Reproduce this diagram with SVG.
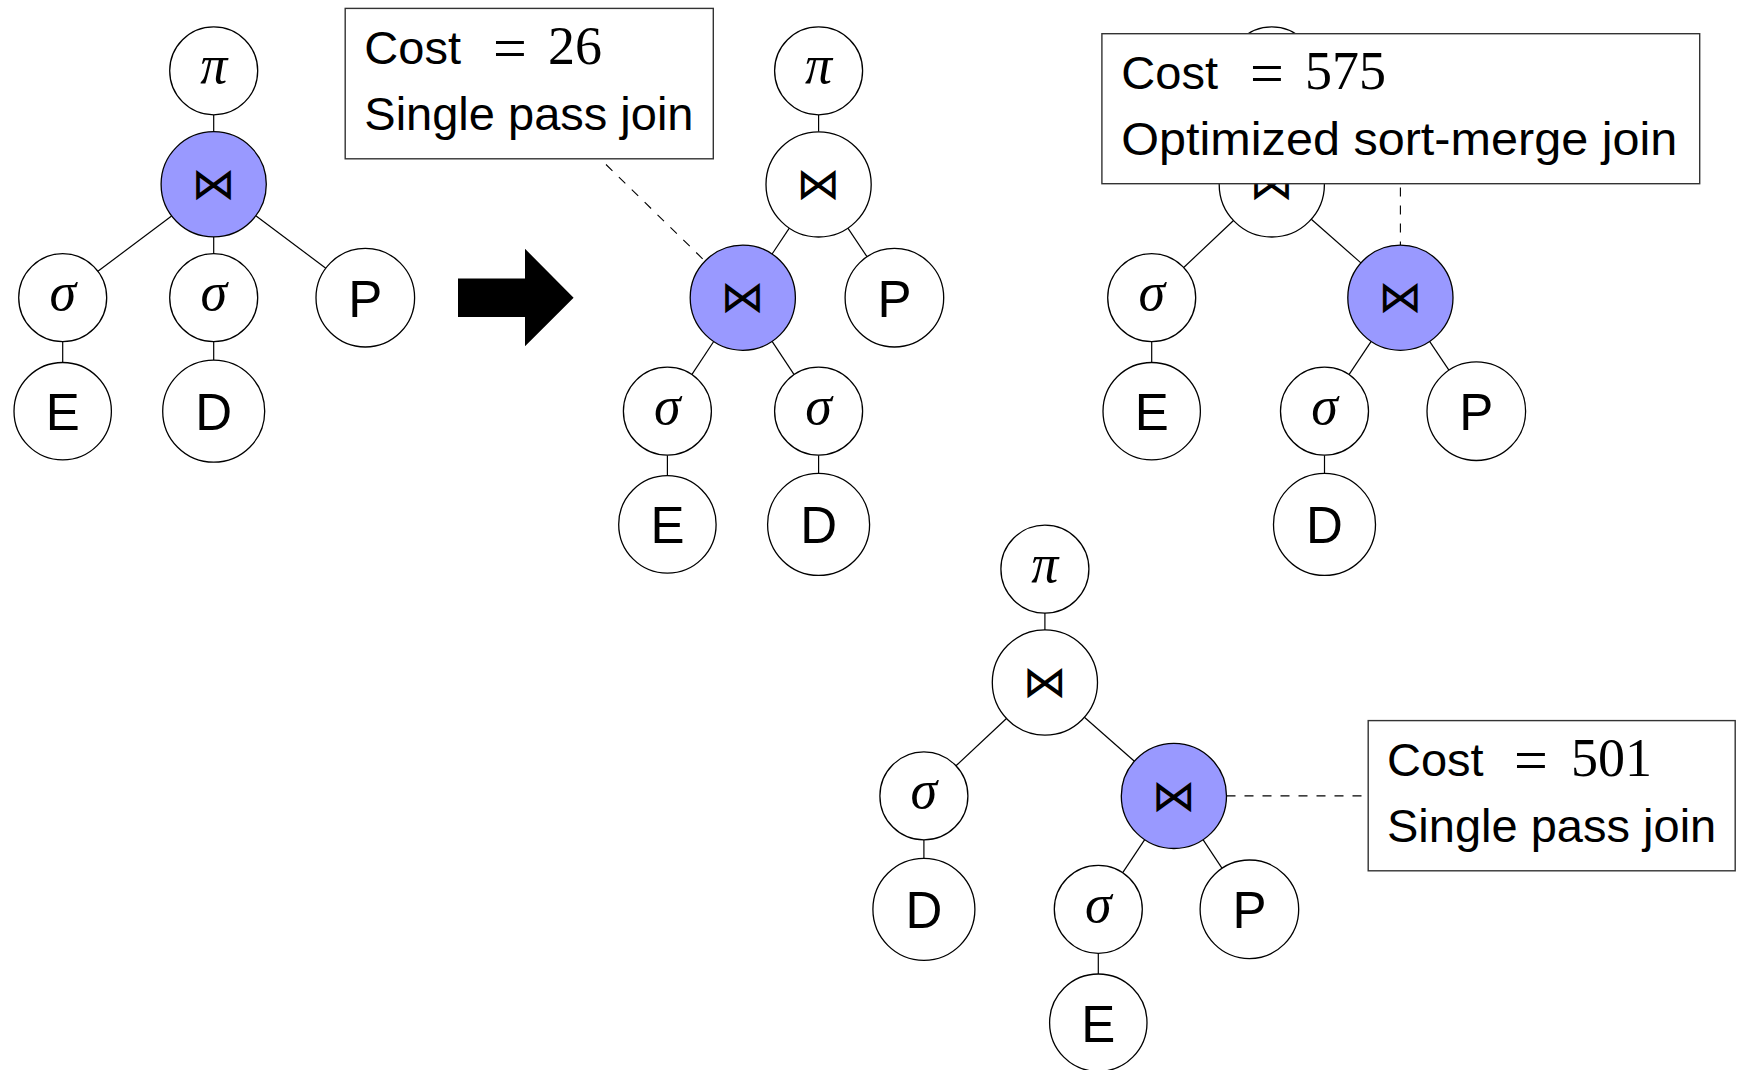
<svg xmlns="http://www.w3.org/2000/svg" width="1741" height="1070" viewBox="0 0 1741 1070">
<style>
.node circle{fill:#fff;stroke:#000;stroke-width:1.3}
.node.blue circle{fill:#9999ff}
.node text{text-anchor:middle;fill:#000}
.sans{font-family:"Liberation Sans",Arial,sans-serif;font-size:51px}
.greek{font-family:"Liberation Serif","Times New Roman",serif;font-style:italic;font-size:54px}
.bow{font-family:"DejaVu Sans",sans-serif;font-size:44px}
.edge{stroke:#000;stroke-width:1.2;fill:none}
.dash{stroke:#000;stroke-width:1.1;stroke-dasharray:9 9;fill:none}
.box rect{fill:#fff;stroke:#333;stroke-width:1.4}
.box text{font-family:"Liberation Sans",Arial,sans-serif;font-size:47px;fill:#000}
.box .m{font-family:"Liberation Serif","Times New Roman",serif;font-size:54px}
.box .eq{font-family:"Liberation Serif","Times New Roman",serif;font-size:60px}
</style>
<rect x="0" y="0" width="1741" height="1070" fill="#fff"/>
<g id="connectors">
<line class="edge" x1="213.7" y1="114.8" x2="213.7" y2="131.7"/>
<line class="edge" x1="171.6" y1="215.9" x2="97.9" y2="271.3"/>
<line class="edge" x1="213.7" y1="236.9" x2="213.7" y2="253.7"/>
<line class="edge" x1="255.8" y1="215.8" x2="325.8" y2="268.2"/>
<line class="edge" x1="62.7" y1="341.7" x2="62.7" y2="362.5"/>
<line class="edge" x1="213.7" y1="341.7" x2="213.7" y2="360.2"/>

<line class="edge" x1="818.6" y1="114.8" x2="818.6" y2="131.8"/>
<line class="edge" x1="789.3" y1="228.1" x2="772.1" y2="254.0"/>
<line class="edge" x1="847.9" y1="228.1" x2="867.0" y2="256.7"/>
<line class="edge" x1="713.7" y1="341.5" x2="691.8" y2="374.6"/>
<line class="edge" x1="772.1" y1="341.4" x2="794.1" y2="374.6"/>
<line class="edge" x1="667.4" y1="455.2" x2="667.4" y2="475.7"/>
<line class="edge" x1="818.6" y1="455.2" x2="818.6" y2="473.4"/>

<line class="edge" x1="1271.8" y1="114.8" x2="1271.8" y2="131.8"/>
<line class="edge" x1="1233.5" y1="220.5" x2="1183.7" y2="267.5"/>
<line class="edge" x1="1311.3" y1="219.2" x2="1360.9" y2="262.9"/>
<line class="edge" x1="1371.2" y1="341.4" x2="1349.0" y2="374.6"/>
<line class="edge" x1="1429.6" y1="341.4" x2="1448.9" y2="370.2"/>
<line class="edge" x1="1151.7" y1="341.7" x2="1151.7" y2="362.5"/>
<line class="edge" x1="1324.5" y1="455.2" x2="1324.5" y2="473.4"/>

<line class="edge" x1="1044.9" y1="613.1" x2="1044.9" y2="629.9"/>
<line class="edge" x1="1006.5" y1="718.5" x2="956.0" y2="765.8"/>
<line class="edge" x1="1084.4" y1="717.2" x2="1134.4" y2="761.2"/>
<line class="edge" x1="1144.7" y1="839.7" x2="1122.7" y2="872.7"/>
<line class="edge" x1="1203.0" y1="839.7" x2="1222.1" y2="868.3"/>
<line class="edge" x1="923.9" y1="839.9" x2="923.9" y2="858.3"/>
<line class="edge" x1="1098.3" y1="953.3" x2="1098.3" y2="974.0"/>

<line class="dash" x1="606" y1="164.5" x2="705.0" y2="261.1"/>
<line class="dash" x1="1400.4" y1="187.5" x2="1400.4" y2="245.1"/>
<line class="dash" x1="1226.5" y1="795.9" x2="1368.2" y2="795.9"/>
</g>

<g id="t1-pi" class="node"><circle cx="213.7" cy="70.8" r="44"/><text class="greek" x="213.7" y="83.3">π</text></g>
<g id="t1-join" class="node blue"><circle cx="213.7" cy="184.3" r="52.6"/><text class="bow" x="213.7" y="199">⋈</text></g>
<g id="t1-sigma1" class="node"><circle cx="62.7" cy="297.7" r="44"/><text class="greek" x="62.7" y="310.2">σ</text></g>
<g id="t1-sigma2" class="node"><circle cx="213.7" cy="297.7" r="44"/><text class="greek" x="213.7" y="310.2">σ</text></g>
<g id="t1-P" class="node"><circle cx="365.3" cy="297.7" r="49.3"/><text class="sans" x="365.3" y="316.7">P</text></g>
<g id="t1-E" class="node"><circle cx="62.7" cy="411.2" r="48.7"/><text class="sans" x="62.7" y="430.2">E</text></g>
<g id="t1-D" class="node"><circle cx="213.7" cy="411.2" r="51"/><text class="sans" x="213.7" y="430.2">D</text></g>

<g id="arrow"><polygon points="458,278.6 525,278.6 525,248.8 573.6,297.7 525,346.3 525,316.9 458,316.9" fill="#000"/></g>

<g id="t2-pi" class="node"><circle cx="818.6" cy="70.8" r="44"/><text class="greek" x="818.6" y="83.3">π</text></g>
<g id="t2-join" class="node"><circle cx="818.6" cy="184.4" r="52.6"/><text class="bow" x="818.6" y="199.1">⋈</text></g>
<g id="t2-joinb" class="node blue"><circle cx="742.8" cy="297.7" r="52.6"/><text class="bow" x="742.8" y="312.4">⋈</text></g>
<g id="t2-P" class="node"><circle cx="894.4" cy="297.7" r="49.3"/><text class="sans" x="894.4" y="316.7">P</text></g>
<g id="t2-sigma1" class="node"><circle cx="667.4" cy="411.2" r="44"/><text class="greek" x="667.4" y="423.7">σ</text></g>
<g id="t2-sigma2" class="node"><circle cx="818.6" cy="411.2" r="44"/><text class="greek" x="818.6" y="423.7">σ</text></g>
<g id="t2-E" class="node"><circle cx="667.4" cy="524.4" r="48.7"/><text class="sans" x="667.4" y="543.4">E</text></g>
<g id="t2-D" class="node"><circle cx="818.6" cy="524.4" r="51"/><text class="sans" x="818.6" y="543.4">D</text></g>

<g id="t3-pi" class="node"><circle cx="1271.8" cy="70.8" r="44"/></g>
<g id="t3-join" class="node"><circle cx="1271.8" cy="184.4" r="52.6"/><text class="bow" x="1271.8" y="199.1">⋈</text></g>
<g id="t3-sigma1" class="node"><circle cx="1151.7" cy="297.7" r="44"/><text class="greek" x="1151.7" y="310.2">σ</text></g>
<g id="t3-joinb" class="node blue"><circle cx="1400.4" cy="297.7" r="52.6"/><text class="bow" x="1400.4" y="312.4">⋈</text></g>
<g id="t3-E" class="node"><circle cx="1151.7" cy="411.2" r="48.7"/><text class="sans" x="1151.7" y="430.2">E</text></g>
<g id="t3-sigma2" class="node"><circle cx="1324.5" cy="411.2" r="44"/><text class="greek" x="1324.5" y="423.7">σ</text></g>
<g id="t3-P" class="node"><circle cx="1476.3" cy="411.2" r="49.3"/><text class="sans" x="1476.3" y="430.2">P</text></g>
<g id="t3-D" class="node"><circle cx="1324.5" cy="524.4" r="51"/><text class="sans" x="1324.5" y="543.4">D</text></g>

<g id="t4-pi" class="node"><circle cx="1044.9" cy="569.1" r="44"/><text class="greek" x="1044.9" y="581.6">π</text></g>
<g id="t4-join" class="node"><circle cx="1044.9" cy="682.5" r="52.6"/><text class="bow" x="1044.9" y="697.2">⋈</text></g>
<g id="t4-sigma1" class="node"><circle cx="923.9" cy="795.9" r="44"/><text class="greek" x="923.9" y="808.4">σ</text></g>
<g id="t4-joinb" class="node blue"><circle cx="1173.9" cy="795.9" r="52.6"/><text class="bow" x="1173.9" y="810.6">⋈</text></g>
<g id="t4-D" class="node"><circle cx="923.9" cy="909.3" r="51"/><text class="sans" x="923.9" y="928.3">D</text></g>
<g id="t4-sigma2" class="node"><circle cx="1098.3" cy="909.3" r="44"/><text class="greek" x="1098.3" y="921.8">σ</text></g>
<g id="t4-P" class="node"><circle cx="1249.4" cy="909.3" r="49.3"/><text class="sans" x="1249.4" y="928.3">P</text></g>
<g id="t4-E" class="node"><circle cx="1098.3" cy="1022.7" r="48.7"/><text class="sans" x="1098.3" y="1041.7">E</text></g>

<g id="box1" class="box"><rect x="345.2" y="8.4" width="368.1" height="150.4"/>
<text x="364.3" y="64"><tspan>Cost</tspan><tspan class="eq" x="493" dy="4">=</tspan><tspan class="m" x="548" dy="-4">26</tspan></text>
<text x="364.3" y="129.8">Single pass join</text></g>

<g id="box3" class="box"><rect x="1101.9" y="33.7" width="597.8" height="150"/>
<text x="1121.3" y="89.2"><tspan>Cost</tspan><tspan class="eq" x="1250" dy="4">=</tspan><tspan class="m" x="1305" dy="-4">575</tspan></text>
<text x="1121.3" y="155" textLength="556" lengthAdjust="spacingAndGlyphs">Optimized sort-merge join</text></g>

<g id="box4" class="box"><rect x="1368.2" y="720.6" width="367" height="150.2"/>
<text x="1387" y="776"><tspan>Cost</tspan><tspan class="eq" x="1514" dy="4">=</tspan><tspan class="m" x="1571" dy="-4">501</tspan></text>
<text x="1387" y="841.8">Single pass join</text></g>
</svg>
